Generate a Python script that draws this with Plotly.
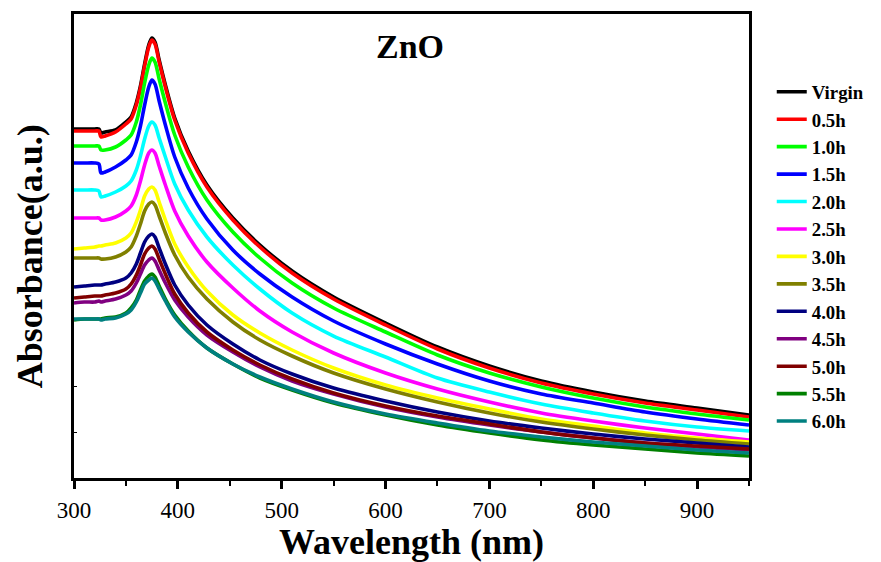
import plotly.graph_objects as go

# Wavelength grid (nm)
wavelength = [300, 310, 320, 324, 326, 330, 340, 350, 355, 360, 364, 368, 372, 375, 378, 382,
              388, 397, 410, 428, 453, 479, 510, 550, 600, 650, 700, 750, 800, 850, 900, 950]

# Absorbance (arbitrary units)
virgin = [349, 349, 349, 349, 345, 346, 348, 356, 361, 375, 392, 414, 433, 440, 436, 418,
          393, 360, 327, 293, 260, 233, 207, 181, 155, 131, 112, 97, 86, 77, 70, 63]
h05 = [347, 347, 347, 347, 341, 342, 346, 354, 359, 373, 390, 412, 431, 438, 434, 416,
       391, 358, 325, 291, 258, 231, 205, 179, 153, 129, 110, 95, 84, 75, 68, 61]
h10 = [332, 332, 332, 332, 328, 328, 331, 338, 343, 356, 373, 395, 413, 420, 416, 399,
       375, 343, 311, 278, 246, 220, 195, 170, 146, 123, 105, 91, 80, 71, 64, 58]
h15 = [315, 315, 315, 314, 305, 306, 311, 318, 323, 336, 352, 373, 391, 398, 394, 377,
       353, 321, 290, 259, 228, 204, 181, 157, 134, 114, 97, 84, 75, 66, 59, 53]
h20 = [288, 288, 288, 287, 281, 282, 286, 292, 297, 308, 322, 339, 352, 356, 353, 340,
       321, 294, 268, 241, 213, 189, 165, 142, 121, 100, 86, 74, 65, 57, 51, 47]
h25 = [260, 260, 260, 260, 258, 258, 261, 267, 272, 283, 297, 313, 325, 328, 325, 312,
       293, 267, 242, 216, 190, 167, 146, 125, 105, 89, 76, 65, 57, 50, 44, 38]
h30 = [229, 230, 231, 232, 232, 233, 235, 240, 245, 256, 268, 282, 289, 291, 288, 276,
       258, 234, 211, 187, 163, 145, 128, 110, 93, 80, 69, 59, 52, 45, 40, 36]
h35 = [220, 220, 220, 220, 219, 219, 221, 226, 231, 242, 254, 267, 274, 276, 273, 262,
       245, 223, 201, 179, 156, 138, 122, 105, 89, 76, 65, 56, 49, 43, 38, 34]
h40 = [191, 192, 193, 193, 193, 194, 196, 200, 205, 214, 225, 236, 242, 244, 241, 230,
       214, 193, 173, 153, 134, 118, 104, 90, 77, 66, 57, 50, 44, 39, 35, 31]
h45 = [175, 176, 176, 177, 176, 177, 179, 183, 187, 195, 204, 213, 218, 220, 217, 208,
       195, 178, 161, 143, 126, 111, 97, 84, 71, 61, 53, 46, 40, 35, 31, 28]
h50 = [180, 181, 182, 182, 182, 183, 185, 189, 194, 203, 213, 224, 230, 232, 229, 219,
       204, 184, 165, 146, 128, 113, 99, 85, 72, 62, 54, 46, 40, 35, 32, 29]
h55 = [158, 159, 159, 159, 159, 160, 161, 165, 170, 178, 188, 197, 202, 204, 201, 192,
       179, 163, 147, 130, 114, 100, 88, 75, 63, 53, 45, 38, 33, 29, 25, 22]
h60 = [159, 159, 159, 159, 158, 159, 160, 164, 168, 176, 185, 194, 198, 200, 197, 189,
       177, 161, 146, 130, 114, 101, 89, 76, 64, 55, 47, 41, 36, 32, 28, 25]

names = ["Virgin", "0.5h", "1.0h", "1.5h", "2.0h", "2.5h", "3.0h", "3.5h",
         "4.0h", "4.5h", "5.0h", "5.5h", "6.0h"]
series = [virgin, h05, h10, h15, h20, h25, h30, h35, h40, h45, h50, h55, h60]
colors = ["#000000", "#FF0000", "#00FF00", "#0000FF", "#00FFFF", "#FF00FF", "#FFFF00",
          "#808000", "#000080", "#800080", "#800000", "#008000", "#008080"]

x_ticks = [300, 400, 500, 600, 700, 800, 900]
y_ticks = [46, 92]

FONT = "Times New Roman, Liberation Serif, serif"

fig = go.Figure()
for name, ys, c in zip(names, series, colors):
    fig.add_trace(go.Scatter(
        x=wavelength, y=ys, name=name, mode="lines",
        line=dict(color=c, width=3.6, shape="spline", smoothing=0.8),
    ))

fig.update_layout(
    width=881, height=562,
    margin=dict(l=74, r=132, t=14, b=84),
    paper_bgcolor="white", plot_bgcolor="white",
    font=dict(family=FONT, color="black"),
    showlegend=True,
    legend=dict(
        xref="container", yref="container",
        x=0.876, y=0.870, xanchor="left", yanchor="top",
        font=dict(family=FONT, size=18.8, weight=700, color="black"),
        bgcolor="rgba(0,0,0,0)", borderwidth=0,
        itemwidth=30, maxheight=520,
    ),
    annotations=[
        dict(text="<b>ZnO</b>", x=0.498, y=0.929, xref="paper", yref="paper",
             showarrow=False, font=dict(family=FONT, size=34, color="black"),
             xanchor="center", yanchor="middle"),
        dict(text="<b>Absorbance(a.u.)</b>", x=-0.065, y=0.478, xref="paper", yref="paper",
             showarrow=False, textangle=-90, font=dict(family=FONT, size=36, color="black"),
             xanchor="center", yanchor="middle"),
    ],
)

fig.update_xaxes(
    range=[300, 950], tickvals=x_ticks, ticks="outside", ticklen=8, tickwidth=3,
    tickcolor="black", showline=True, linewidth=3, linecolor="black", mirror=True,
    showgrid=False, zeroline=False, ticklabelstandoff=1, automargin=False,
    tickfont=dict(family=FONT, size=23, color="black"),
    minor=dict(dtick=50, tick0=300, ticks="outside", ticklen=5, tickwidth=2, tickcolor="black",
               showgrid=False),
    title=dict(text="<b>Wavelength (nm)</b>", font=dict(family=FONT, size=36, color="black"),
               standoff=2),
)
fig.update_yaxes(
    range=[0, 464], tickvals=y_ticks, ticks="inside", ticklen=3, tickwidth=1,
    tickcolor="black", showticklabels=False, automargin=False,
    showline=True, linewidth=3, linecolor="black", mirror=True,
    showgrid=False, zeroline=False,
)

fig.write_html("out.html")
